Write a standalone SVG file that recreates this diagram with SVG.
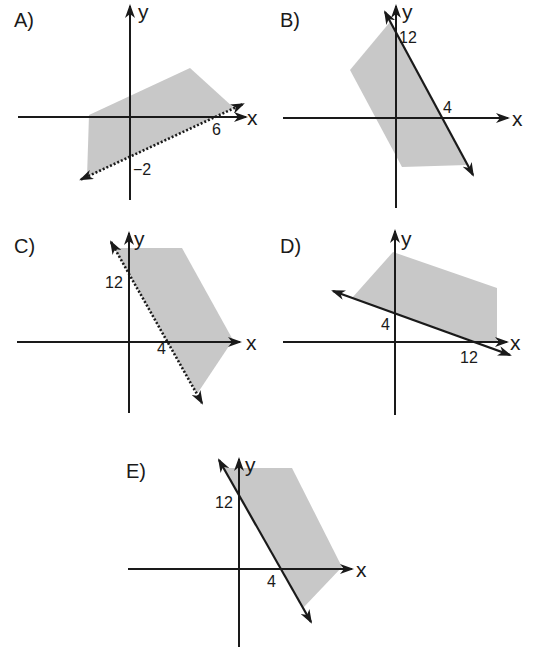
<svg xmlns="http://www.w3.org/2000/svg" width="537" height="652" viewBox="0 0 537 652">
<defs>
<marker id="ah" viewBox="0 0 14 10" refX="12" refY="5" markerWidth="14" markerHeight="10" markerUnits="userSpaceOnUse" orient="auto-start-reverse">
<path d="M0,0 L14,5 L0,10 L4,5 z" fill="#1a1a1a"/>
</marker>
</defs>
<style>
.ax{stroke:#1a1a1a;stroke-width:2;fill:none}
.ln{stroke:#1a1a1a;stroke-width:2.2;fill:none}
.dt{stroke:#1a1a1a;stroke-width:2.6;fill:none;stroke-dasharray:2 2}
.sh{fill:#c8c8c8;stroke:none}
.lb{font-family:"Liberation Sans",Arial,sans-serif;font-size:20px;fill:#1a1a1a}
.xy{font-family:"Liberation Sans",Arial,sans-serif;font-size:21px;fill:#1a1a1a}
.nm{font-family:"Liberation Sans",Arial,sans-serif;font-size:16px;fill:#1a1a1a}
</style>
<rect width="537" height="652" fill="#ffffff"/>

<g id="panelA">
<polygon class="sh" points="89,115 190,68 234,108 87,177"/>
<line class="ax" x1="18" y1="117" x2="246" y2="117" marker-end="url(#ah)"/>
<line class="ax" x1="130" y1="200" x2="130" y2="6" marker-end="url(#ah)"/>
<text class="lb" x="14" y="27">A)</text>
<text class="xy" x="138" y="19">y</text>
<text class="xy" x="247" y="125">x</text>
<text class="nm" x="212" y="135">6</text>
<text class="nm" x="133" y="175">−2</text>
</g>

<g id="panelB">
<polygon class="sh" points="390,22 350,70 402,167 467,165"/>
<line class="ax" x1="283" y1="118" x2="508" y2="118" marker-end="url(#ah)"/>
<line class="ax" x1="396" y1="208" x2="396" y2="6" marker-end="url(#ah)"/>
<text class="lb" x="280" y="27">B)</text>
<text class="xy" x="402" y="19">y</text>
<text class="xy" x="512" y="126">x</text>
<text class="nm" x="399" y="43">12</text>
<text class="nm" x="443" y="113">4</text>
</g>

<g id="panelC">
<polygon class="sh" points="114,248 182,248 233,340 197,394"/>
<line class="ax" x1="17" y1="342" x2="240" y2="342" marker-end="url(#ah)"/>
<line class="ax" x1="129" y1="413" x2="129" y2="233" marker-end="url(#ah)"/>
<text class="lb" x="14" y="253">C)</text>
<text class="xy" x="134" y="246">y</text>
<text class="xy" x="246" y="350">x</text>
<text class="nm" x="105" y="288">12</text>
<text class="nm" x="157" y="354">4</text>
</g>

<g id="panelD">
<polygon class="sh" points="352,298 393,252 497,288 497,342 477,342"/>
<line class="ax" x1="283" y1="342" x2="507" y2="342" marker-end="url(#ah)"/>
<line class="ax" x1="395" y1="415" x2="395" y2="231" marker-end="url(#ah)"/>
<text class="lb" x="280" y="253">D)</text>
<text class="xy" x="401" y="246">y</text>
<text class="xy" x="510" y="350">x</text>
<text class="nm" x="381" y="330">4</text>
<text class="nm" x="460" y="363">12</text>
</g>

<g id="panelE">
<polygon class="sh" points="224,468 292,468 342,567 303,608"/>
<line class="ax" x1="128" y1="569" x2="352" y2="569" marker-end="url(#ah)"/>
<line class="ax" x1="239" y1="647" x2="239" y2="459" marker-end="url(#ah)"/>
<text class="lb" x="126" y="478">E)</text>
<text class="xy" x="245" y="472">y</text>
<text class="xy" x="356" y="577">x</text>
<text class="nm" x="215" y="508">12</text>
<text class="nm" x="267" y="587">4</text>
</g>

<g id="connectors">
<line class="dt" x1="81" y1="179.5" x2="243" y2="104" marker-start="url(#ah)" marker-end="url(#ah)"/>
<line class="ln" x1="385" y1="12" x2="473" y2="175" marker-start="url(#ah)" marker-end="url(#ah)"/>
<line class="dt" x1="111" y1="242" x2="202" y2="403" marker-start="url(#ah)" marker-end="url(#ah)"/>
<line class="ln" x1="333" y1="291" x2="510" y2="355" marker-start="url(#ah)" marker-end="url(#ah)"/>
<line class="ln" x1="219" y1="460" x2="311" y2="622" marker-start="url(#ah)" marker-end="url(#ah)"/>
</g>
</svg>
